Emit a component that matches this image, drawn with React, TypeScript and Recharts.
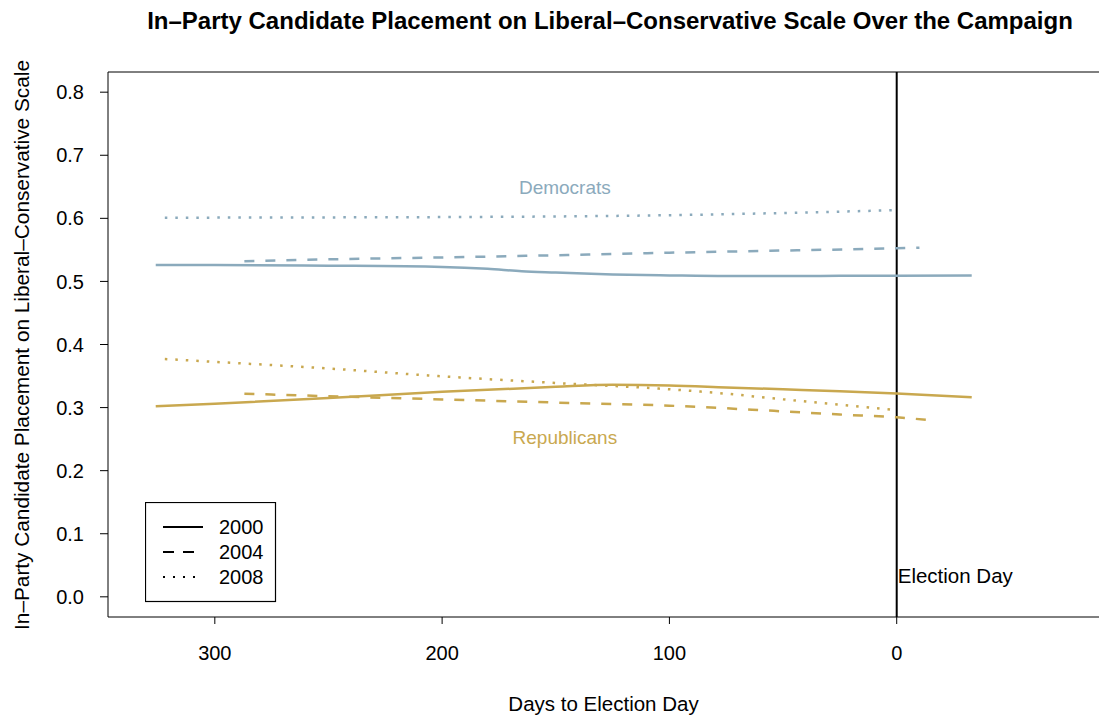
import React from "react";
import { LineChart, Line, XAxis, YAxis, ReferenceLine, ReferenceDot } from "recharts";

// days to election (descending) and placement values
const demDays2000 = [326, 300, 250, 200, 180, 165, 150, 125, 100, 75, 50, 25, 0, -33];
const demVals2000 = [0.526, 0.526, 0.525, 0.523, 0.52, 0.516, 0.514, 0.511, 0.5095, 0.5085, 0.5085, 0.5088, 0.509, 0.5095];
const demDays2004 = [287, 250, 200, 150, 100, 50, 0, -10];
const demVals2004 = [0.532, 0.535, 0.538, 0.5415, 0.5455, 0.549, 0.5525, 0.5535];
const demDays2008 = [322, 250, 200, 150, 100, 50, 0];
const demVals2008 = [0.601, 0.6015, 0.602, 0.603, 0.605, 0.6085, 0.613];

const repDays2000 = [326, 300, 250, 200, 150, 125, 100, 75, 50, 25, 0, -33];
const repVals2000 = [0.302, 0.306, 0.315, 0.325, 0.333, 0.336, 0.335, 0.332, 0.329, 0.326, 0.3225, 0.3165];
const repDays2004 = [287, 250, 200, 150, 100, 50, 25, 0, -15];
const repVals2004 = [0.322, 0.318, 0.313, 0.308, 0.303, 0.294, 0.289, 0.2845, 0.28];
const repDays2008 = [322, 300, 250, 200, 150, 100, 75, 50, 25, 0];
const repVals2008 = [0.377, 0.3725, 0.362, 0.3495, 0.339, 0.329, 0.322, 0.313, 0.3045, 0.296];

const xTicks = [300, 200, 100, 0];
const yTicks = [0, 0.1, 0.2, 0.3, 0.4, 0.5, 0.6, 0.7, 0.8];
const years = ["2000", "2004", "2008"];

const DEM = "#8BAABC";
const REP = "#C9A84F";
const FONT = "'Liberation Sans', Arial, sans-serif";
const dashes = [undefined, "10 11", "2.5 8"];
const legendDashes = ["", "11 9", "2 8"];

const zip = (days: number[], vals: number[]) => days.map((d, i) => ({ day: d, v: vals[i] }));

const series = [
  { key: "d2000", data: zip(demDays2000, demVals2000), color: DEM, dash: dashes[0] },
  { key: "d2004", data: zip(demDays2004, demVals2004), color: DEM, dash: dashes[1] },
  { key: "d2008", data: zip(demDays2008, demVals2008), color: DEM, dash: dashes[2] },
  { key: "r2000", data: zip(repDays2000, repVals2000), color: REP, dash: dashes[0] },
  { key: "r2004", data: zip(repDays2004, repVals2004), color: REP, dash: dashes[1] },
  { key: "r2008", data: zip(repDays2008, repVals2008), color: REP, dash: dashes[2] },
];

export default function App() {
  return (
    <div
      style={{
        position: "absolute",
        left: 0,
        top: 0,
        width: 1099,
        height: 721,
        overflow: "hidden",
        background: "#fff",
        fontFamily: FONT,
      }}
    >
      <LineChart width={1099} height={721} margin={{ top: 72, right: 0, bottom: 0, left: 0 }}>
        <XAxis
          type="number"
          dataKey="day"
          domain={[-89, 347]}
          reversed
          allowDataOverflow
          ticks={xTicks}
          height={104}
          tickSize={7}
          tickMargin={22}
          axisLine={{ stroke: "#000" }}
          tickLine={{ stroke: "#000" }}
          tick={{ fill: "#000", fontSize: 20, fontFamily: FONT }}
        />
        <YAxis
          type="number"
          domain={[-0.032, 0.832]}
          allowDataOverflow
          ticks={yTicks}
          width={108}
          tickSize={8}
          tickMargin={16}
          tickFormatter={(v: number) => v.toFixed(1)}
          axisLine={{ stroke: "#000" }}
          tickLine={{ stroke: "#000" }}
          tick={{ fill: "#000", fontSize: 20, fontFamily: FONT }}
        />
        <ReferenceLine y={0.832} stroke="#000" ifOverflow="visible" />
        <ReferenceLine x={0} stroke="#000" strokeWidth={2} />
        {series.map((s) => (
          <Line
            key={s.key}
            data={s.data}
            dataKey="v"
            type="monotone"
            stroke={s.color}
            strokeWidth={2.5}
            strokeDasharray={s.dash}
            dot={false}
            activeDot={false}
            isAnimationActive={false}
          />
        ))}
        <ReferenceDot
          x={146}
          y={0.65}
          r={0}
          stroke="none"
          fill="none"
          label={{ value: "Democrats", position: "center", fill: DEM, fontSize: 19, fontFamily: FONT }}
        />
        <ReferenceDot
          x={146}
          y={0.2535}
          r={0}
          stroke="none"
          fill="none"
          label={{ value: "Republicans", position: "center", fill: REP, fontSize: 19, fontFamily: FONT }}
        />
        <ReferenceDot
          x={0}
          y={0.033}
          r={0}
          stroke="none"
          fill="none"
          label={{ value: "Election Day", position: "right", offset: 1, fill: "#000", fontSize: 20.5, fontFamily: FONT }}
        />
      </LineChart>

      <div
        style={{
          position: "absolute",
          left: 0,
          width: 1220,
          top: 7,
          textAlign: "center",
          fontWeight: "bold",
          fontSize: 24,
        }}
      >
        In–Party Candidate Placement on Liberal–Conservative Scale Over the Campaign
      </div>
      <div
        style={{
          position: "absolute",
          left: 108,
          width: 991,
          top: 692,
          textAlign: "center",
          fontSize: 20.5,
        }}
      >
        Days to Election Day
      </div>
      <div
        style={{
          position: "absolute",
          left: 22,
          top: 345,
          transform: "translate(-50%, -50%) rotate(-90deg)",
          whiteSpace: "nowrap",
          fontSize: 20.8,
        }}
      >
        In–Party Candidate Placement on Liberal–Conservative Scale
      </div>

      <svg style={{ position: "absolute", left: 145, top: 502 }} width={132} height={101}>
        <rect x={0.5} y={0.5} width={130} height={99} fill="#fff" stroke="#000" strokeWidth={1.2} />
        {years.map((y, i) => (
          <g key={y}>
            <line
              x1={18}
              x2={58}
              y1={25 + i * 25}
              y2={25 + i * 25}
              stroke="#000"
              strokeWidth={2}
              strokeDasharray={legendDashes[i] || undefined}
            />
            <text x={74} y={25 + i * 25} dominantBaseline="central" fontSize={20} fontFamily={FONT}>
              {y}
            </text>
          </g>
        ))}
      </svg>
    </div>
  );
}
